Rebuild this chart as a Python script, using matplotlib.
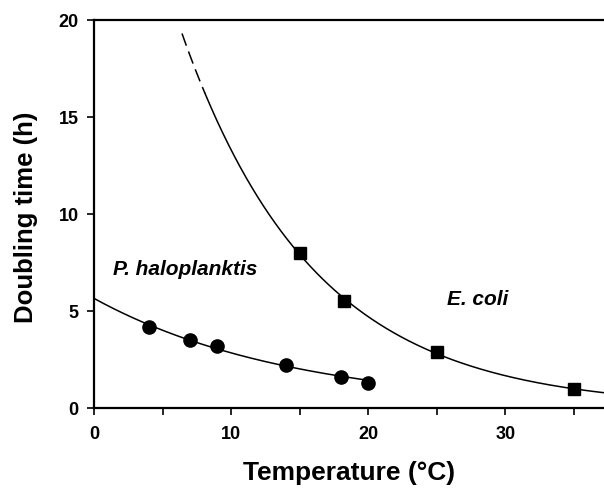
import numpy as np
import matplotlib.pyplot as plt

plt.rcParams['font.family'] = ['Liberation Sans', 'DejaVu Sans']

# P. haloplanktis doubling times
ph_temp = [4, 7, 9, 14, 18, 20]
ph_time = [4.2, 3.5, 3.2, 2.2, 1.6, 1.3]

# E. coli doubling times
ec_temp = [15, 18.2, 25, 35]
ec_time = [8.0, 5.5, 2.9, 1.0]

# exponential decay fits (log-linear, weighted so it behaves like a fit on raw y)
ph_fit = np.polyfit(ph_temp, np.log(ph_time), 1, w=np.array(ph_time))
ec_fit = np.polyfit(ec_temp, np.log(ec_time), 1, w=np.array(ec_time))

fig = plt.figure(figsize=(6.04, 4.9), dpi=100)
ax = fig.add_axes([0.1556, 0.1673, 0.8444, 0.7918])

x_ph = np.linspace(0, 20, 200)
ax.plot(x_ph, np.exp(np.polyval(ph_fit, x_ph)), color='black', lw=1.1)

# extrapolated part of E. coli curve is dashed
x_dash = np.linspace(6.42, 8.1, 50)
ax.plot(x_dash, np.exp(np.polyval(ec_fit, x_dash)), color='black', lw=1.1, dashes=(8.5, 4))
x_ec = np.linspace(8.1, 40, 300)
ax.plot(x_ec, np.exp(np.polyval(ec_fit, x_ec)), color='black', lw=1.1)

ax.plot(ph_temp, ph_time, 'o', color='black', ms=9.5, clip_on=False)
ax.plot(ec_temp, ec_time, 's', color='black', ms=8.5, clip_on=False)

ax.text(1.37, 7.15, 'P. haloplanktis', fontsize=15, fontweight='bold', fontstyle='italic', va='center')
ax.text(25.76, 5.62, 'E. coli', fontsize=15, fontweight='bold', fontstyle='italic', va='center')

ax.set_xlim(0, 37.2)
ax.set_ylim(0, 20)
ax.set_xticks([0, 10, 20, 30])
ax.set_xticks([5, 15, 25, 35], minor=True)
ax.set_yticks([0, 5, 10, 15, 20])
ax.tick_params(which='both', direction='out', length=5, width=1.2, labelsize=13)
ax.tick_params(axis='y', pad=6)
ax.tick_params(axis='x', pad=8)
for lab in ax.get_xticklabels() + ax.get_yticklabels():
    lab.set_fontweight('bold')

ax.spines['right'].set_visible(False)
for s in ['left', 'bottom', 'top']:
    ax.spines[s].set_linewidth(1.6)

ax.set_xlabel('Temperature (°C)', fontsize=19, fontweight='bold', labelpad=13)
ax.set_ylabel('Doubling time (h)', fontsize=18.5, fontweight='bold')
ax.yaxis.set_label_coords(-0.11, 0.492)

fig.savefig('out.png', dpi=100)
